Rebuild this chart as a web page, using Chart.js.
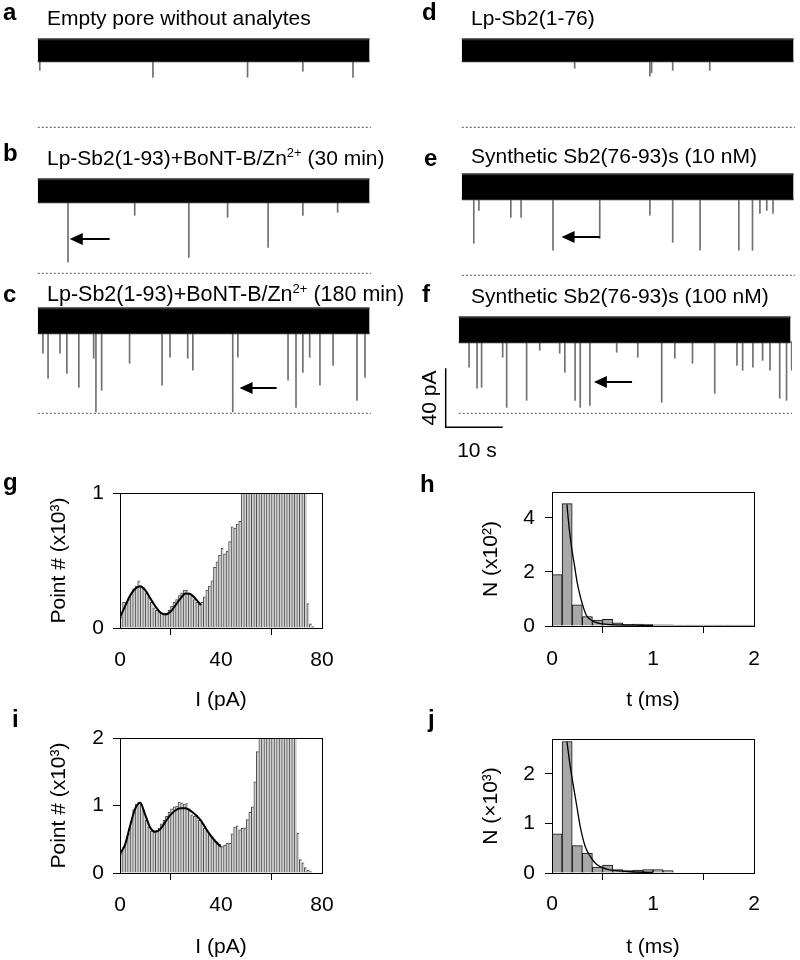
<!DOCTYPE html>
<html>
<head>
<meta charset="utf-8">
<script src="https://cdn.jsdelivr.net/npm/chart.js@4.4.1/dist/chart.umd.min.js"></script>
<style>
body{margin:0;background:#fff;}
#page{position:relative;width:800px;height:960px;overflow:hidden;}
canvas{position:absolute;}
svg{position:absolute;left:0;top:0;}
text{font-family:"Liberation Sans",Arial,sans-serif;fill:#000;}
.lab{font-weight:bold;font-size:24px;}
.tt{font-size:21px;}
</style>
</head>
<body>
<div id="page">
<canvas id="trA" width="356" height="127" style="left:15.2px;top:17.7px"></canvas>
<canvas id="trD" width="356" height="127" style="left:439.2px;top:17.7px"></canvas>
<canvas id="trB" width="356" height="127" style="left:15.2px;top:163.7px"></canvas>
<canvas id="trE" width="356" height="127" style="left:439.2px;top:165.7px"></canvas>
<canvas id="trC" width="356" height="127" style="left:15.2px;top:303.7px"></canvas>
<canvas id="trF" width="356" height="127" style="left:436.2px;top:303.7px"></canvas>
<canvas id="hG" width="298" height="234" style="left:40px;top:479px"></canvas>
<canvas id="hH" width="298" height="235" style="left:472px;top:478px"></canvas>
<canvas id="hI" width="298" height="236" style="left:40px;top:724px"></canvas>
<canvas id="hJ" width="298" height="235" style="left:472px;top:725px"></canvas>
<svg width="800" height="960">
<text class="lab" x="3" y="20">a</text>
<text class="tt" x="47" y="25">Empty pore without analytes</text>
<text class="lab" x="422" y="20">d</text>
<text class="tt" x="471" y="25">Lp-Sb2(1-76)</text>
<text class="lab" x="3" y="161">b</text>
<text class="tt" x="47" y="165" font-size="19.5">Lp-Sb2(1-93)+BoNT-B/Zn<tspan dy="-8" font-size="13">2+</tspan><tspan dy="8"> (30 min)</tspan></text>
<text class="lab" x="424" y="166">e</text>
<text class="tt" x="471" y="163">Synthetic Sb2(76-93)s (10 nM)</text>
<text class="lab" x="3" y="302">c</text>
<text class="tt" x="47" y="301" style="font-size:21.5px">Lp-Sb2(1-93)+BoNT-B/Zn<tspan dy="-8" font-size="13">2+</tspan><tspan dy="8"> (180 min)</tspan></text>
<text class="lab" x="422" y="302">f</text>
<text class="tt" x="471" y="303">Synthetic Sb2(76-93)s (100 nM)</text>
<text class="tt" transform="translate(436,398) rotate(-90)" text-anchor="middle">40 pA</text>
<text class="tt" x="477" y="457" text-anchor="middle">10 s</text>
<text class="lab" x="3" y="490">g</text>
<text class="lab" x="420" y="492">h</text>
<text class="lab" x="12" y="727">i</text>
<text class="lab" x="428" y="727">j</text>
</svg>
</div>
<script>
// current traces: band = [lower, upper] open-pore level (pA), spikes = event time (s) and blocked level (pA)
const traceEnd = 58.2;

const bandA = [44.7, 59.7];
const spikeTA = [0.35, 20.2, 36.8, 46.5, 55.3];
const spikeIA = [38.6, 33.9, 33.9, 38, 33.9];

const bandD = [44.7, 59.7];
const spikeTD = [19.8, 33, 33.3, 37, 43.5];
const spikeID = [40, 34.6, 37, 38.6, 38.6];

const bandB = [48.1, 63.7];
const spikeTB = [5.3, 17, 26.5, 33.3, 40.4, 46.5, 52.6];
const spikeIB = [7.5, 39.3, 10.8, 38, 17.6, 39.3, 41.4];
const arrowB = [5.6, 12.6, 23];

const bandE = [51.5, 68.5];
const spikeTE = [2.1, 3.0, 8.6, 10.4, 16.0, 24.2, 33.0, 37.0, 41.8, 48.6, 51.0, 52.3, 53.5, 54.6];
const spikeIE = [21.7, 44, 39.3, 39.3, 17, 25, 40.7, 22.4, 17, 17, 17, 42, 44, 42];
const arrowE = [17.5, 24.2, 25.8];

const bandC = [54.2, 71.2];
const spikeTC = [0.9, 1.8, 3.9, 5.1, 7.2, 9.8, 10.2, 11.2, 16.1, 21.8, 23.2, 26.3, 27.2, 34.2, 35.1, 43.9, 45.3, 46.5, 47.7, 49.5, 51.8, 56.0, 57.4];
const spikeIC = [40.7, 23.7, 40.7, 27.1, 17.6, 37.3, 1, 15.6, 33.9, 19, 38, 37.3, 29.2, 1, 38, 22.4, 4, 27.8, 38, 19, 32.5, 8.8, 24.4];
const arrowC = [35.4, 41.9, 17];

const bandF = [48.1, 65.1];
const spikeTF = [1.8, 3.2, 4.0, 7.7, 8.4, 11.9, 14.2, 17.7, 18.6, 20.4, 21.3, 23.0, 27.7, 31.4, 35.6, 37.9, 41.0, 44.9, 48.8, 49.8, 51.6, 53.3, 54.6, 56.3, 57.5, 58.4];
const spikeIF = [31.2, 17, 17.6, 38, 4, 8.8, 42.7, 40.7, 27.8, 8.8, 4, 5.4, 41.4, 38, 7.5, 37.3, 33.9, 13.6, 32.5, 29.2, 31.2, 35.9, 29.2, 10.2, 8.8, 29.2];
const arrowF = [23.7, 30.4, 21];
const scaleBarF = [-2.3, -9.5, 10, 40];

// histograms
const gCounts = [0.08, 0.19, 0.19, 0.21, 0.25, 0.29, 0.31, 0.35, 0.31, 0.30,
  0.26, 0.23, 0.19, 0.15, 0.13, 0.12, 0.11, 0.11, 0.11, 0.13,
  0.16, 0.19, 0.21, 0.24, 0.26, 0.28, 0.28, 0.26, 0.24, 0.21,
  0.19, 0.18, 0.19, 0.23, 0.28, 0.31, 0.35, 0.45, 0.49, 0.54,
  0.59, 0.55, 0.57, 0.64, 0.75, 0.74, 0.77, 0.79, 1.6, 1.6,
  1.6, 1.6, 1.6, 1.6, 1.6, 1.6, 1.6, 1.6, 1.6, 1.6,
  1.6, 1.6, 1.6, 1.6, 1.6, 1.6, 1.6, 1.6, 1.6, 1.6,
  1.6, 1.6, 1.6, 1.6, 0.18, 0.03, 0.01, 0, 0, 0];
const gFitI = [0, 2, 4, 6, 8, 10, 12, 14, 16, 18, 20, 22, 24, 26, 28, 30, 32];
const gFitN = [0.08, 0.16, 0.24, 0.29, 0.31, 0.28, 0.22, 0.16, 0.115, 0.10, 0.12, 0.17, 0.22, 0.255, 0.25, 0.215, 0.17];

const iCounts = [0.28, 0.38, 0.48, 0.58, 0.76, 0.94, 1.02, 1.05, 1.02, 0.92,
  0.78, 0.68, 0.62, 0.61, 0.63, 0.66, 0.73, 0.78, 0.84, 0.90,
  0.95, 0.98, 0.99, 1.05, 1.04, 1.02, 1.03, 0.95, 0.86, 0.84,
  0.85, 0.78, 0.74, 0.66, 0.63, 0.58, 0.54, 0.49, 0.46, 0.43,
  0.39, 0.41, 0.44, 0.44, 0.58, 0.68, 0.70, 0.64, 0.66, 0.67,
  0.79, 0.90, 0.98, 1.35, 1.80, 3, 3, 3, 3, 3,
  3, 3, 3, 3, 3, 3, 3, 3, 3, 3,
  0.59, 0.20, 0.15, 0.08, 0.04, 0.02, 0, 0, 0, 0];
const iFitI = [0, 2, 4, 6, 8, 10, 12, 14, 16, 18, 20, 22, 24, 26, 28, 30, 32, 34, 36, 38, 40];
const iFitN = [0.28, 0.42, 0.70, 0.95, 1.04, 0.86, 0.67, 0.61, 0.65, 0.76, 0.86, 0.93, 0.96, 0.96, 0.92, 0.86, 0.78, 0.66, 0.55, 0.46, 0.39];

const hCounts = [1.9, 4.53, 0.78, 0.35, 0.22, 0.25, 0.12, 0.06, 0.07, 0.05,
  0.04, 0.04, 0.03, 0.03, 0.03, 0.03, 0.03, 0.03, 0.03, 0.03];
const hFitT = [0.148, 0.16, 0.18, 0.2, 0.22, 0.25, 0.28, 0.31, 0.34, 0.38, 0.42, 0.48, 0.6, 0.8, 1.0];
const hFitN = [4.5, 4.0, 3.3, 2.75, 2.3, 1.6, 1.1, 0.7, 0.4, 0.24, 0.15, 0.09, 0.05, 0.03, 0.02];

const jCounts = [0.79, 2.65, 0.55, 0.40, 0.12, 0.16, 0.07, 0.05, 0.06, 0.07, 0.07, 0.05];
const jFitT = [0.148, 0.18, 0.213, 0.246, 0.279, 0.328, 0.377, 0.443, 0.54, 0.74, 1.0];
const jFitN = [2.65, 2.15, 1.74, 1.34, 0.94, 0.54, 0.34, 0.17, 0.08, 0.03, 0.01];

const currentTicks = [0, 40, 80];
const timeTicks = [0, 1, 2];
const gTicks = [0, 1];
const iTicks = [0, 1, 2];
const hTicks = [0, 2, 4];
const jTicks = [0, 1, 2];

Chart.defaults.font.family = '"Liberation Sans", Arial, sans-serif';
Chart.defaults.color = '#000';
Chart.defaults.animation = false;

const annot = {
  id: 'annot',
  afterDatasetsDraw(chart, args, opts) {
    const ctx = chart.ctx, x = chart.scales.x, y = chart.scales.y;
    ctx.save();
    ctx.strokeStyle = '#000';
    ctx.fillStyle = '#000';
    if (opts.arrow) {
      const tip = x.getPixelForValue(opts.arrow[0]);
      const tail = x.getPixelForValue(opts.arrow[1]);
      const py = Math.round(y.getPixelForValue(opts.arrow[2]));
      ctx.lineWidth = 2;
      ctx.beginPath(); ctx.moveTo(tip + 10, py); ctx.lineTo(tail, py); ctx.stroke();
      ctx.beginPath(); ctx.moveTo(tip, py); ctx.lineTo(tip + 13, py - 6); ctx.lineTo(tip + 13, py + 6); ctx.closePath(); ctx.fill();
    }
    if (opts.bar) {
      const b = opts.bar;
      const x0 = x.getPixelForValue(b[0]), y0 = y.getPixelForValue(b[1]);
      ctx.lineWidth = 1.5;
      ctx.beginPath();
      ctx.moveTo(x0, y.getPixelForValue(b[1] + b[3]));
      ctx.lineTo(x0, y0);
      ctx.lineTo(x.getPixelForValue(b[0] + b[2]), y0);
      ctx.stroke();
    }
    ctx.restore();
  }
};

function trace(id, band, spikeT, spikeI, arrow, bar) {
  const spikes = spikeT.map((t, i) => ({x: t, y: [spikeI[i], band[0] + 0.5]}));
  new Chart(document.getElementById(id), {
    type: 'bar',
    data: {
      datasets: [
        {type: 'line', data: [{x: 0, y: band[1]}, {x: traceEnd, y: band[1]}], borderColor: '#333', borderWidth: 2, pointRadius: 0, fill: '+1', backgroundColor: '#000'},
        {type: 'line', data: [{x: 0, y: band[0]}, {x: traceEnd, y: band[0]}], borderColor: '#333', borderWidth: 2, pointRadius: 0, fill: false},
        {type: 'line', data: [{x: 0, y: 0}, {x: traceEnd + 0.4, y: 0}], borderColor: '#555', borderWidth: 1, borderDash: [2, 2], pointRadius: 0, fill: false},
        {type: 'bar', data: spikes, backgroundColor: '#707070', barThickness: 1}
      ]
    },
    options: {
      responsive: false,
      devicePixelRatio: 1,
      layout: {padding: 0},
      scales: {
        x: {type: 'linear', min: -4, max: -4 + 356 / 5.7, display: false, offset: false},
        y: {type: 'linear', min: -12, max: -12 + 127 / 1.475, display: false}
      },
      plugins: {legend: {display: false}, tooltip: {enabled: false}, annot: {arrow: arrow, bar: bar}}
    },
    plugins: [annot]
  });
}

trace('trA', bandA, spikeTA, spikeIA, null, null);
trace('trD', bandD, spikeTD, spikeID, null, null);
trace('trB', bandB, spikeTB, spikeIB, arrowB, null);
trace('trE', bandE, spikeTE, spikeIE, arrowE, null);
trace('trC', bandC, spikeTC, spikeIC, arrowC, null);
trace('trF', bandF, spikeTF, spikeIF, arrowF, scaleBarF);

const frame = {
  id: 'frame',
  afterDatasetsDraw(chart) {
    const a = chart.chartArea, ctx = chart.ctx;
    ctx.save();
    ctx.strokeStyle = '#000';
    ctx.lineWidth = 1;
    ctx.strokeRect(Math.round(a.left) + 0.5, Math.round(a.top) + 0.5, Math.round(a.right - a.left), Math.round(a.bottom - a.top));
    ctx.restore();
  }
};

function hist(id, o) {
  const bars = o.counts.map((v, k) => ({x: (k + 0.5) * o.binW, y: v}));
  const fit = o.fitX.map((v, k) => ({x: v, y: o.fitY[k]}));
  new Chart(document.getElementById(id), {
    type: 'bar',
    data: {
      datasets: [
        {type: 'line', data: fit, borderColor: '#000', borderWidth: o.fitW, pointRadius: 0, cubicInterpolationMode: 'monotone', fill: false, clip: 0},
        {type: 'bar', data: bars, backgroundColor: o.fillC, borderColor: o.edgeC, borderWidth: o.edgeW, barPercentage: 1, categoryPercentage: 1, clip: 0}
      ]
    },
    options: {
      responsive: false,
      devicePixelRatio: 1,
      layout: {padding: {top: 14, right: 16, left: 0, bottom: 0}},
      scales: {
        x: {
          type: 'linear', min: o.xMin, max: o.xMax, offset: false,
          afterBuildTicks: s => { s.ticks = o.xTicks.map(v => ({value: v})); },
          afterFit: s => { s.height = o.xH; s.paddingLeft = 0; s.paddingRight = 0; },
          grid: {drawOnChartArea: false, drawTicks: true, tickLength: 7, color: '#000'},
          border: {display: true, color: '#000'},
          ticks: {font: {size: 21}, padding: o.padX, maxRotation: 0, autoSkip: false},
          title: {display: true, text: o.xTitle, font: {size: 21}, padding: {top: 0, bottom: 0}}
        },
        y: {
          type: 'linear', min: 0, max: o.yMax,
          afterBuildTicks: s => { s.ticks = o.yTicks.map(v => ({value: v})); },
          afterFit: s => { s.width = 80; s.paddingTop = 0; s.paddingBottom = 0; },
          grid: {drawOnChartArea: false, drawTicks: true, tickLength: 7, color: '#000'},
          border: {display: true, color: '#000'},
          ticks: {font: {size: 21}, padding: o.padY, autoSkip: false},
          title: {display: true, text: o.yTitle, font: {size: 21}, padding: {top: 7, bottom: 0}}
        }
      },
      plugins: {legend: {display: false}, tooltip: {enabled: false}}
    },
    plugins: [frame]
  });
}

const fineBars = {fillC: '#d2d2d2', edgeC: '#4e4e4e', edgeW: {left: 1, right: 0, top: 1, bottom: 0}, fitW: 2};
const wideBars = {fillC: '#a8a8a8', edgeC: '#111', edgeW: 1, fitW: 1.3};

hist('hG', Object.assign({counts: gCounts, binW: 1, fitX: gFitI, fitY: gFitN, xMin: 0, xMax: 80, yMax: 1,
  xTicks: currentTicks, yTicks: gTicks, xTitle: 'I (pA)', yTitle: 'Point # (x10³)', xH: 85, padX: 13, padY: 9}, fineBars));
hist('hI', Object.assign({counts: iCounts, binW: 1, fitX: iFitI, fitY: iFitN, xMin: 0, xMax: 80, yMax: 2,
  xTicks: currentTicks, yTicks: iTicks, xTitle: 'I (pA)', yTitle: 'Point # (x10³)', xH: 87, padX: 13, padY: 9}, fineBars));
hist('hH', Object.assign({counts: hCounts, binW: 0.1, fitX: hFitT, fitY: hFitN, xMin: 0, xMax: 2, yMax: 4.96,
  xTicks: timeTicks, yTicks: hTicks, xTitle: 't (ms)', yTitle: 'N (x10²)', xH: 87, padX: 14, padY: 10}, wideBars));
hist('hJ', Object.assign({counts: jCounts, binW: 0.1, fitX: jFitT, fitY: jFitN, xMin: 0, xMax: 2, yMax: 2.7,
  xTicks: timeTicks, yTicks: jTicks, xTitle: 't (ms)', yTitle: 'N (×10³)', xH: 87, padX: 12, padY: 10}, wideBars));
</script>
</body>
</html>
